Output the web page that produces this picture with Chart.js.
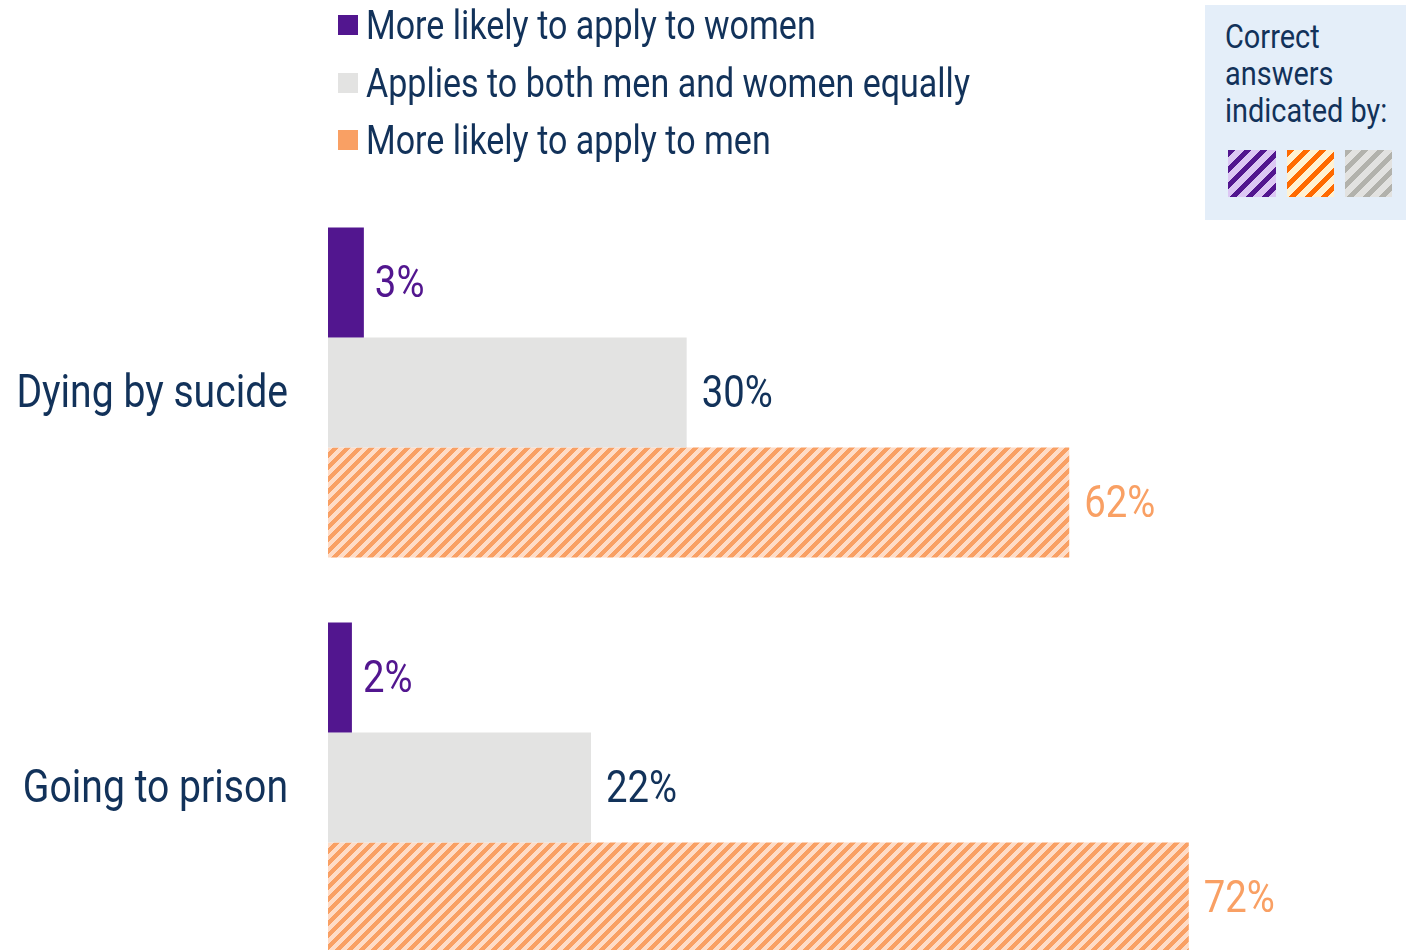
<!DOCTYPE html>
<html>
<head>
<meta charset="utf-8">
<script src="https://cdn.jsdelivr.net/npm/chart.js@4"></script>
<style>
  html, body { margin: 0; padding: 0; background: #fff; overflow: hidden; }
  body { width: 1406px; height: 950px; position: relative; font-family: Roboto, sans-serif; color: #12325a; }
  #wrap { position: absolute; left: 0; top: 0; width: 1406px; height: 1000px; }
  .item { position: absolute; left: 338px; white-space: nowrap; }
  .sw { position: absolute; left: 0; width: 20px; height: 20px; }
  .tx { position: absolute; left: 28px; top: 0; font-size: 40px; line-height: 40px; display: inline-block; transform-origin: 0 0; white-space: nowrap; }
  #box { position: absolute; left: 1205px; top: 5px; width: 201px; height: 215px; background: #e4eef9; }
  #box .t { position: absolute; left: 20px; top: 13px; font-size: 34px; line-height: 37px; transform-origin: 0 0; white-space: nowrap; }
  #box canvas { position: absolute; top: 145px; }
</style>
</head>
<body>
<div id="wrap"><canvas id="barChart" width="1406" height="1000"></canvas></div>
<div id="legend"></div>
<div id="box">
  <div class="t" id="boxText">Correct<br>answers<br>indicated by:</div>
  <canvas id="sw1" width="48" height="47" style="left:23px"></canvas>
  <canvas id="sw2" width="47" height="47" style="left:82px"></canvas>
  <canvas id="sw3" width="47" height="47" style="left:140px"></canvas>
</div>
<script>
const categories = ["Dying by sucide", "Going to prison"];
const seriesNames = ["More likely to apply to women", "Applies to both men and women equally", "More likely to apply to men"];
const women = [3, 2];
const both = [30, 22];
const men = [62, 72];

const FONT = "Roboto, sans-serif";
const navy = "#12325a";
const purple = "#52168f";
const grey = "#e3e3e2";
const orange = "#f9a064";

// the original uses a condensed face, squeeze Roboto to the same width
const mctx = document.createElement("canvas").getContext("2d");
mctx.font = "40px " + FONT;
const squeeze = 604 / mctx.measureText(seriesNames[1]).width;

// pixel hatch, stripes going up to the right
function makeHatch(bg, fg, period, w) {
  const c = document.createElement("canvas");
  c.width = period; c.height = period;
  const g = c.getContext("2d");
  g.fillStyle = bg;
  g.fillRect(0, 0, period, period);
  g.fillStyle = fg;
  for (let y = 0; y < period; y++) {
    for (let x = 0; x < period; x++) {
      if ((x + y) % period < w) g.fillRect(x, y, 1, 1);
    }
  }
  return c;
}

function drawSwatch(id, bg, fg) {
  const c = document.getElementById(id);
  const g = c.getContext("2d");
  g.fillStyle = g.createPattern(makeHatch(bg, fg, 16, 7), "repeat");
  g.fillRect(0, 0, c.width, c.height);
}
drawSwatch("sw1", "#dcc7f4", purple);
drawSwatch("sw2", "#fff1d2", "#ff6a00");
drawSwatch("sw3", "#e2e2e0", "#b2b2ac");

document.getElementById("boxText").style.transform = "scaleX(" + squeeze + ")";

// legend
const legendColors = [purple, grey, orange];
const legendEl = document.getElementById("legend");
seriesNames.forEach((name, i) => {
  const base = 37 + i * 57.5;
  const d = document.createElement("div");
  d.className = "item";
  d.style.top = "0px";
  d.innerHTML = '<span class="sw" style="top:' + (base - 22) + 'px;background:' + legendColors[i] + '"></span>' +
    '<span class="tx" style="top:' + (base - 31) + 'px;transform:scaleX(' + squeeze + ')">' + name + '</span>';
  legendEl.appendChild(d);
});

const ctx = document.getElementById("barChart").getContext("2d");
const hatch = ctx.createPattern(makeHatch("#fedcc7", orange, 12, 6), "repeat");

const labelColors = [purple, navy, orange];
const textPlugin = {
  id: "textPlugin",
  afterDatasetsDraw(chart) {
    const c = chart.ctx;
    const yScale = chart.scales.y;
    c.save();
    c.textBaseline = "alphabetic";
    // category labels
    c.font = "46px " + FONT;
    c.fillStyle = navy;
    c.textAlign = "right";
    categories.forEach((cat, i) => {
      c.save();
      c.translate(yScale.right - 40, yScale.getPixelForValue(i) + 14);
      c.scale(squeeze, 1);
      c.fillText(cat, 0, 0);
      c.restore();
    });
    // value labels
    c.font = "45px " + FONT;
    c.textAlign = "left";
    chart.data.datasets.forEach((ds, i) => {
      chart.getDatasetMeta(i).data.forEach((bar, j) => {
        c.fillStyle = labelColors[i];
        c.save();
        c.translate(bar.x + (i === 0 ? 11 : 15), bar.y + 14.5);
        c.scale(squeeze, 1);
        c.fillText(ds.data[j] + "%", 0, 0);
        c.restore();
      });
    });
    c.restore();
  }
};

new Chart(ctx, {
  type: "bar",
  data: {
    labels: categories,
    datasets: [
      { label: seriesNames[0], data: women, backgroundColor: purple },
      { label: seriesNames[1], data: both, backgroundColor: grey },
      { label: seriesNames[2], data: men, backgroundColor: hatch }
    ]
  },
  options: {
    indexAxis: "y",
    responsive: false,
    animation: false,
    categoryPercentage: 0.835,
    barPercentage: 1,
    layout: { padding: { top: 195, bottom: 15, right: 2, left: 0 } },
    plugins: { legend: { display: false }, tooltip: { enabled: false } },
    scales: {
      x: { display: false, min: 0, max: 90 },
      y: {
        grid: { display: false, drawTicks: false },
        border: { display: false },
        ticks: { display: false },
        afterFit(scale) { scale.width = 328; }
      }
    }
  },
  plugins: [textPlugin]
});
</script>
</body>
</html>
